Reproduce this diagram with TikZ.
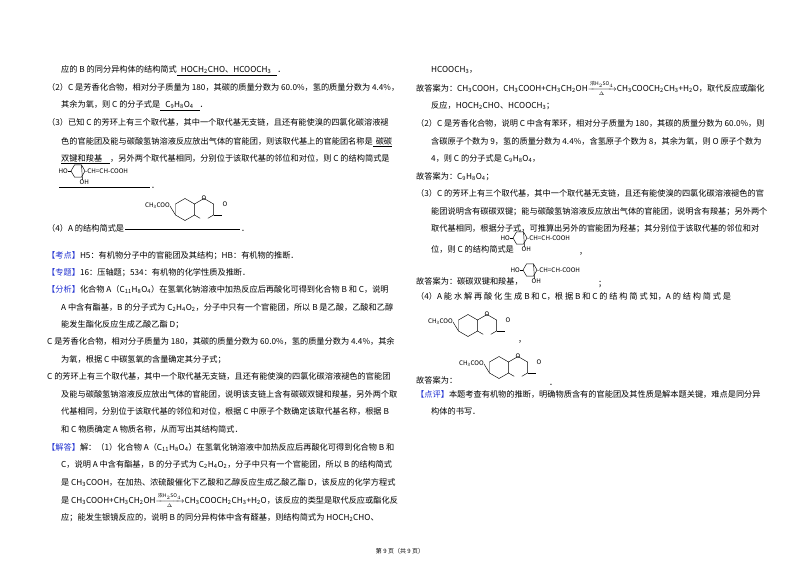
\documentclass[tikz,border=0pt]{standalone}
\usepackage{fontspec}
\usepackage{amsmath}
\setmainfont{Noto Sans CJK SC}
\newcommand\dn[1]{\textsubscript{#1}}
\newcommand\rx{$\xrightarrow[\scriptscriptstyle\Delta]{\text{\fontsize{5}{5}\selectfont 浓H$_2$SO$_4$}}$}
\definecolor{lab}{HTML}{2030D0}
\newcommand\lb[1]{\textcolor{lab}{【#1】}}
\tikzset{
 t/.style={anchor=base west,inner sep=0pt,font=\fontsize{8.2}{10}\selectfont},
 sm/.style={inner sep=0pt,font=\fontsize{6.3}{7}\selectfont},
 bond/.style={line width=0.45pt},
 cring/.pic={
  \draw[bond] (0:7) -- (60:7) -- (120:7) -- (180:7) -- (240:7) -- (300:7) -- cycle;
  \draw[bond] (-10,0) -- (180:7);
  \node[sm,anchor=east] (-ho) at (-10,0) {HO};
  \node[sm,anchor=west] (-ch) at (7,0.3) {-CH=CH-COOH};
  \draw[bond] (300:7) -- (4.5,9);
  \node[sm,anchor=north west] (-oh) at (1.5,8.5) {OH};
 },
 coum/.pic={
  \node[sm,anchor=east] (-ac) at (0,0) {CH\dn{3}COO};
  \begin{scope}[shift={(15,3.5)}]
   \draw[bond] (90:11) -- (150:11) -- (210:11) -- (270:11) -- (330:11) -- (30:11) -- cycle;
   \draw[bond] (150:11) -- (-15,-3.5);
  \end{scope}
  \begin{scope}[shift={(34,3.5)}]
   \draw[bond] (150:11) -- ($(150:11)!0.6!(90:11)$);
   \draw[bond] ($(90:11)!0.4!(30:11)$) -- (30:11) -- (330:11) -- (270:11) -- (210:11);
   \draw[bond] (30:11) -- ++(8,0);
  \end{scope}
  \node[sm] (-o1) at (34,-7.5) {O};
  \node[sm,anchor=west] (-o2) at (52.5,-2) {O};
 }
}
\usetikzlibrary{calc}
\begin{document}
\begin{tikzpicture}[x=1pt,y=-1pt]
\useasboundingbox (0,0) rectangle (800,565);
% left column
\node[t] (l1) at (61,72) {应的 B 的同分异构体的结构简式\underline{\hspace{4pt}HOCH\dn{2}CHO、HCOOCH\dn{3}\hspace{6pt}}．};
\node[t] (l2) at (47,90) {（2）C 是芳香化合物，相对分子质量为 180，其碳的质量分数为 60.0\%，氢的质量分数为 4.4\%，};
\node[t] (l3) at (61,107) {其余为氧，则 C 的分子式是\underline{\hspace{5pt}C\dn{9}H\dn{8}O\dn{4}\hspace{6pt}}．};
\node[t] (l4) at (47,125) {（3）已知 C 的芳环上有三个取代基，其中一个取代基无支链，且还有能使溴的四氯化碳溶液褪};
\node[t] (l5) at (61,144) {色的官能团及能与碳酸氢钠溶液反应放出气体的官能团，则该取代基上的官能团名称是\underline{\hspace{3pt}碳碳}};
\node[t] (l6) at (61,161) {\underline{双键和羧基\hspace{8pt}}，另外两个取代基相同，分别位于该取代基的邻位和对位，则 C 的结构简式是};
\pic (sA) at (78,171) {cring};
\draw[line width=0.4pt] (59,187) -- (150,187);
\node[t] (l7) at (151,188) {．};
\pic (cA) at (170,206) {coum};
\node[t] (l8) at (47,231) {（4）A 的结构简式是};
\draw[line width=0.4pt] (125,229) -- (240,229);
\node[t] (l8b) at (241,231) {．};
\node[t] (l9) at (47,258) {\lb{考点}H5：有机物分子中的官能团及其结构；HB：有机物的推断．};
\node[t] (l10) at (47,275) {\lb{专题}16：压轴题；534：有机物的化学性质及推断．};
\node[t] (l11) at (47,292) {\lb{分析}化合物 A（C\dn{11}H\dn{8}O\dn{4}）在氢氧化钠溶液中加热反应后再酸化可得到化合物 B 和 C，说明};
\node[t] (l12) at (61,310) {A 中含有酯基，B 的分子式为 C\dn{2}H\dn{4}O\dn{2}，分子中只有一个官能团，所以 B 是乙酸，乙酸和乙醇};
\node[t] (l13) at (61,327) {能发生酯化反应生成乙酸乙酯 D；};
\node[t] (l14) at (47,344) {C 是芳香化合物，相对分子质量为 180，其碳的质量分数为 60.0\%，氢的质量分数为 4.4\%，其余};
\node[t] (l15) at (61,362) {为氧，根据 C 中碳氢氧的含量确定其分子式；};
\node[t] (l16) at (47,379) {C 的芳环上有三个取代基，其中一个取代基无支链，且还有能使溴的四氯化碳溶液褪色的官能团};
\node[t] (l17) at (61,397) {及能与碳酸氢钠溶液反应放出气体的官能团，说明该支链上含有碳碳双键和羧基，另外两个取};
\node[t] (l18) at (61,414) {代基相同，分别位于该取代基的邻位和对位，根据 C 中原子个数确定该取代基名称，根据 B};
\node[t] (l19) at (61,432) {和 C 物质确定 A 物质名称，从而写出其结构简式．};
\node[t] (l20) at (47,450) {\lb{解答}解：（1）化合物 A（C\dn{11}H\dn{8}O\dn{4}）在氢氧化钠溶液中加热反应后再酸化可得到化合物 B 和};
\node[t] (l21) at (61,467) {C，说明 A 中含有酯基，B 的分子式为 C\dn{2}H\dn{4}O\dn{2}，分子中只有一个官能团，所以 B 的结构简式};
\node[t] (l22) at (61,485) {是 CH\dn{3}COOH，在加热、浓硫酸催化下乙酸和乙醇反应生成乙酸乙酯 D，该反应的化学方程式};
\node[t] (l23) at (61,503) {是 CH\dn{3}COOH+CH\dn{3}CH\dn{2}OH\rx CH\dn{3}COOCH\dn{2}CH\dn{3}+H\dn{2}O，该反应的类型是取代反应或酯化反};
\node[t] (l24) at (61,520) {应；能发生银镜反应的，说明 B 的同分异构体中含有醛基，则结构简式为 HOCH\dn{2}CHO、};
% right column
\node[t] (r1) at (431,72) {HCOOCH\dn{3}，};
\node[t] (r2) at (416,91) {故答案为：CH\dn{3}COOH，CH\dn{3}COOH+CH\dn{3}CH\dn{2}OH\rx CH\dn{3}COOCH\dn{2}CH\dn{3}+H\dn{2}O，取代反应或酯化};
\node[t] (r3) at (431,108) {反应，HOCH\dn{2}CHO、HCOOCH\dn{3}；};
\node[t] (r4) at (416,126) {（2）C 是芳香化合物，说明 C 中含有苯环，相对分子质量为 180，其碳的质量分数为 60.0\%，则};
\node[t] (r5) at (431,144) {含碳原子个数为 9，氢的质量分数为 4.4\%，含氢原子个数为 8，其余为氧，则 O 原子个数为};
\node[t] (r6) at (431,161) {4，则 C 的分子式是 C\dn{9}H\dn{8}O\dn{4}，};
\node[t] (r7) at (416,179) {故答案为：C\dn{9}H\dn{8}O\dn{4}；};
\node[t] (r8) at (416,196) {（3）C 的芳环上有三个取代基，其中一个取代基无支链，且还有能使溴的四氯化碳溶液褪色的官};
\node[t] (r9) at (431,214) {能团说明含有碳碳双键；能与碳酸氢钠溶液反应放出气体的官能团，说明含有羧基；另外两个};
\node[t] (r10) at (431,231) {取代基相同，根据分子式，可推算出另外的官能团为羟基；其分别位于该取代基的邻位和对};
\pic (sB) at (520,238) {cring};
\node[t] (r11) at (431,252) {位，则 C 的结构简式是};
\node[t] (r11b) at (579,254) {，};
\pic (sC) at (530,270) {cring};
\node[t] (r12) at (416,284) {故答案为：碳碳双键和羧基，};
\node[t] (r12b) at (598,286) {；};
\node[t] (r13) at (416,299) {（4）A 能 水 解 再 酸 化 生 成 B 和 C，根 据 B 和 C 的 结 构 简 式 知，A 的 结 构 简 式 是};
\pic (cB) at (453,322) {coum};
\node[t] (r14) at (518,342) {，};
\pic (cC) at (484,364) {coum};
\node[t] (r15) at (416,383) {故答案为：};
\node[t] (r15b) at (549,385) {．};
\node[t] (r16) at (416,397) {\lb{点评}本题考查有机物的推断，明确物质含有的官能团及其性质是解本题关键，难点是同分异};
\node[t] (r17) at (431,414) {构体的书写．};
\node[inner sep=0pt,font=\fontsize{6}{7}\selectfont] (ft) at (400,551) {第 9 页（共 9 页）};
\end{tikzpicture}
\end{document}
